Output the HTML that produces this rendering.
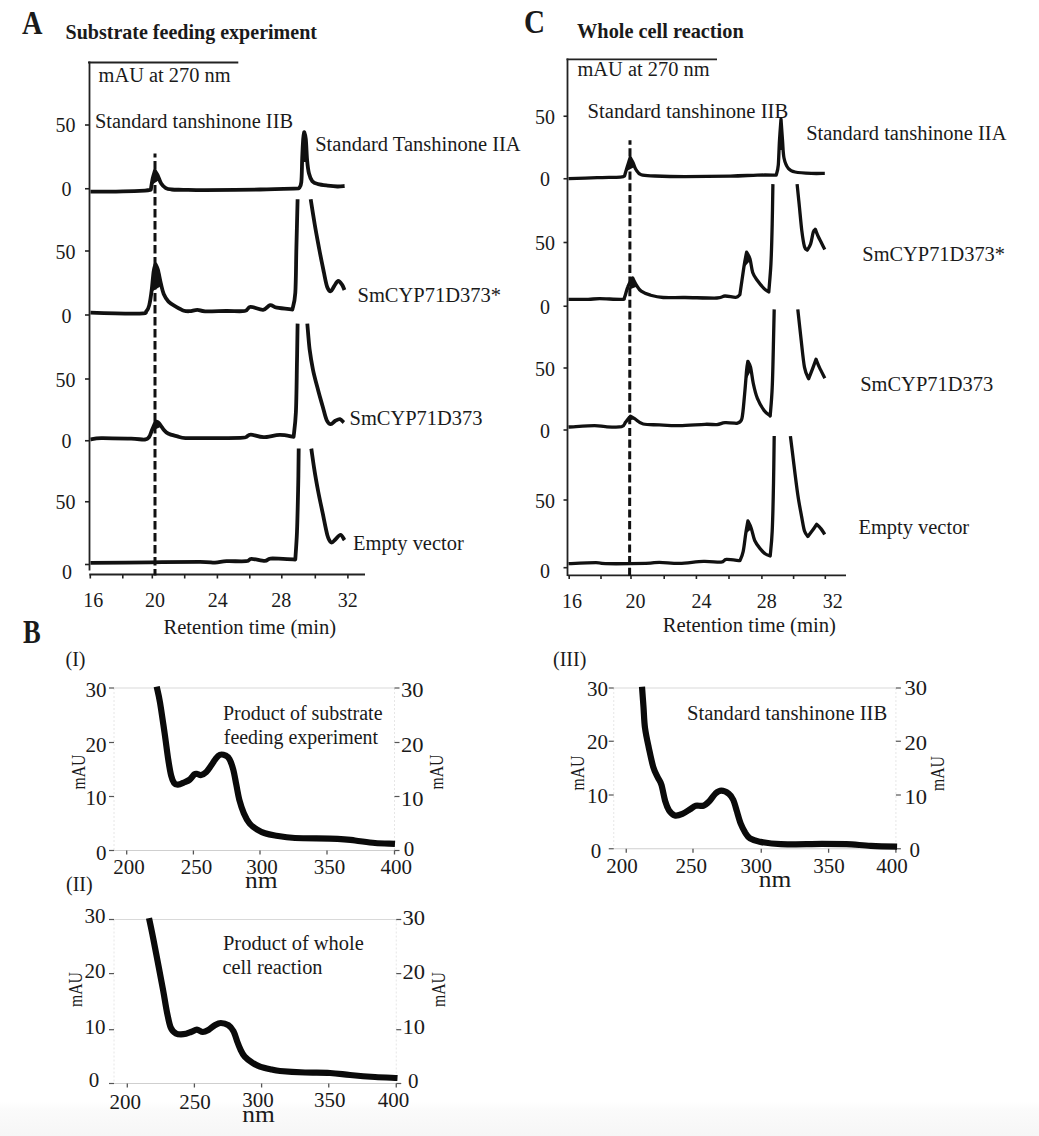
<!DOCTYPE html>
<html><head><meta charset="utf-8"><style>
html,body{margin:0;padding:0;background:#fff;}
body{width:1039px;height:1136px;overflow:hidden;position:relative;}
svg{position:absolute;left:0;top:0;}
</style></head><body>
<svg width="1039" height="1136" viewBox="0 0 1039 1136" font-family="Liberation Serif" fill="#1a1a1a">
<defs><linearGradient id="bg" x1="0" y1="0" x2="0" y2="1"><stop offset="0" stop-color="#ffffff"/><stop offset="0.2" stop-color="#fbfbfb"/><stop offset="1" stop-color="#f6f6f6"/></linearGradient></defs>
<rect x="0" y="1102" width="1039" height="34" fill="url(#bg)"/>
<text x="22" y="33.6" font-size="33" font-weight="bold" textLength="20.5" lengthAdjust="spacingAndGlyphs" >A</text>
<text x="65.5" y="38.6" font-size="21" font-weight="bold" textLength="251.5" lengthAdjust="spacingAndGlyphs" >Substrate feeding experiment</text>
<line x1="88" y1="62.5" x2="238.3" y2="62.5" stroke="#222" stroke-width="1.8" />
<line x1="89.5" y1="61.6" x2="89.5" y2="570.5" stroke="#222" stroke-width="1.8" />
<text x="98.6" y="82.0" font-size="20" textLength="132" lengthAdjust="spacingAndGlyphs" >mAU at 270 nm</text>
<line x1="85" y1="125" x2="89.5" y2="125" stroke="#222" stroke-width="1.6" />
<line x1="85" y1="188.75" x2="89.5" y2="188.75" stroke="#222" stroke-width="1.6" />
<line x1="85" y1="251" x2="89.5" y2="251" stroke="#222" stroke-width="1.6" />
<line x1="85" y1="315" x2="89.5" y2="315" stroke="#222" stroke-width="1.6" />
<line x1="85" y1="379" x2="89.5" y2="379" stroke="#222" stroke-width="1.6" />
<line x1="85" y1="440.75" x2="89.5" y2="440.75" stroke="#222" stroke-width="1.6" />
<line x1="85" y1="501.75" x2="89.5" y2="501.75" stroke="#222" stroke-width="1.6" />
<line x1="85" y1="564.5" x2="89.5" y2="564.5" stroke="#222" stroke-width="1.6" />
<text x="55.5" y="131.8" font-size="20" >50</text>
<text x="61.5" y="196.3" font-size="20" >0</text>
<text x="55.5" y="258.8" font-size="20" >50</text>
<text x="61.5" y="322.8" font-size="20" >0</text>
<text x="55.5" y="386.8" font-size="20" >50</text>
<text x="61.5" y="448.3" font-size="20" >0</text>
<text x="55.5" y="509.3" font-size="20" >50</text>
<text x="62" y="578.8" font-size="20" >0</text>
<line x1="89.3" y1="574.5" x2="365" y2="574.5" stroke="#222" stroke-width="1.8" />
<line x1="90.3" y1="574.5" x2="90.3" y2="578.5" stroke="#222" stroke-width="1.6" />
<line x1="122.8" y1="574.5" x2="122.8" y2="578.5" stroke="#222" stroke-width="1.6" />
<line x1="152.3" y1="574.5" x2="152.3" y2="578.5" stroke="#222" stroke-width="1.6" />
<line x1="184.7" y1="574.5" x2="184.7" y2="578.5" stroke="#222" stroke-width="1.6" />
<line x1="217.4" y1="574.5" x2="217.4" y2="578.5" stroke="#222" stroke-width="1.6" />
<line x1="249.8" y1="574.5" x2="249.8" y2="578.5" stroke="#222" stroke-width="1.6" />
<line x1="281.8" y1="574.5" x2="281.8" y2="578.5" stroke="#222" stroke-width="1.6" />
<line x1="315.3" y1="574.5" x2="315.3" y2="578.5" stroke="#222" stroke-width="1.6" />
<line x1="347.9" y1="574.5" x2="347.9" y2="578.5" stroke="#222" stroke-width="1.6" />
<text x="93.2" y="606.8" font-size="20" text-anchor="middle" >16</text>
<text x="155.1" y="606.8" font-size="20" text-anchor="middle" >20</text>
<text x="217.8" y="606.8" font-size="20" text-anchor="middle" >24</text>
<text x="281.2" y="606.8" font-size="20" text-anchor="middle" >28</text>
<text x="347.8" y="606.8" font-size="20" text-anchor="middle" >32</text>
<text x="163.5" y="633.8" font-size="20" textLength="172.6" lengthAdjust="spacingAndGlyphs" >Retention time (min)</text>
<text x="95" y="128.2" font-size="20" textLength="198" lengthAdjust="spacingAndGlyphs" >Standard tanshinone IIB</text>
<text x="315.2" y="151.2" font-size="20" textLength="205.5" lengthAdjust="spacingAndGlyphs" >Standard Tanshinone IIA</text>
<text x="357.5" y="301.8" font-size="20" textLength="143.5" lengthAdjust="spacingAndGlyphs" >SmCYP71D373*</text>
<text x="349.5" y="424.55" font-size="20" textLength="133" lengthAdjust="spacingAndGlyphs" >SmCYP71D373</text>
<text x="353" y="550.0" font-size="20" textLength="110.75" lengthAdjust="spacingAndGlyphs" >Empty vector</text>
<line x1="155.0" y1="153.5" x2="155.0" y2="575.5" stroke="#111" stroke-width="3" stroke-dasharray="8.5 3.5" stroke-dashoffset="4.5"/>
<path d="M90.5,191.6 C95.9,191.6 114.0,191.5 123.1,191.3 C132.2,191.1 140.4,190.8 145.0,190.6 C149.6,190.3 149.8,189.9 150.8,189.8 C151.1,188.0 151.9,182.1 152.6,178.9 C153.3,175.7 154.5,172.2 154.9,170.8 C155.4,171.6 156.6,173.3 157.7,175.4 C158.8,177.5 159.8,181.4 161.2,183.5 C162.5,185.6 164.1,187.1 165.8,188.1 C167.5,189.1 168.7,189.2 171.6,189.5 C174.5,189.8 177.6,189.7 183.2,189.8 C188.8,189.9 192.2,190.2 205.0,190.2 C217.8,190.1 244.3,189.8 260.0,189.5 C275.6,189.2 292.4,188.6 298.9,188.4 C299.3,187.4 300.8,187.2 301.3,182.2 C301.9,177.1 301.9,165.3 302.2,158.1 C302.5,150.9 302.9,143.2 303.2,138.9 C303.5,134.6 304.0,133.2 304.2,132.1 C304.5,133.2 305.3,134.2 305.8,138.9 C306.3,143.6 306.6,154.2 307.1,160.0 C307.6,165.8 308.1,170.0 309.0,173.5 C309.9,177.0 310.8,179.4 312.3,181.2 C313.8,183.0 315.5,183.4 318.1,184.1 C320.7,184.8 324.5,185.2 327.7,185.6 C330.9,186.0 334.6,186.4 337.4,186.5 C340.2,186.6 343.4,186.1 344.6,186.0" fill="none" stroke="#111" stroke-width="3.8" stroke-linejoin="round" stroke-linecap="butt"/>
<path d="M90.5,312.7 C98.7,312.9 130.3,313.9 139.6,313.6 C148.9,313.4 144.8,312.6 146.4,311.2 C148.0,309.8 148.3,308.9 149.2,305.4 C150.1,301.9 151.0,295.6 151.7,290.0 C152.4,284.4 153.0,276.1 153.6,271.8 C154.2,267.5 155.2,265.4 155.5,264.1 C155.9,265.1 157.0,266.6 157.9,269.8 C158.8,273.0 159.8,279.3 160.8,283.3 C161.8,287.3 162.4,290.8 163.7,293.9 C165.0,296.9 166.4,299.4 168.5,301.6 C170.6,303.8 173.6,305.4 176.2,306.9 C178.8,308.4 181.7,310.0 183.9,310.7 C186.2,311.4 187.4,311.3 189.7,311.2 C191.9,311.1 194.8,309.8 197.4,309.8 C200.0,309.8 200.3,311.2 205.1,311.4 C209.9,311.6 219.6,311.1 226.2,311.0 C232.8,310.9 240.7,311.7 244.7,311.0 C248.7,310.3 247.3,307.0 250.4,306.8 C253.5,306.6 259.8,310.1 263.1,309.8 C266.4,309.5 267.8,305.6 270.1,305.2 C272.4,304.8 273.3,307.0 277.0,307.7 C280.7,308.4 289.8,309.2 292.4,309.5 C292.9,306.7 294.6,303.3 295.3,292.9 C296.0,282.5 296.0,262.8 296.4,247.2 C296.8,231.6 297.4,207.2 297.6,199.2" fill="none" stroke="#111" stroke-width="3.8" stroke-linejoin="round" stroke-linecap="butt"/>
<path d="M310.7,199.2 C311.4,203.4 313.3,215.9 314.7,224.3 C316.1,232.7 317.8,241.5 319.3,249.5 C320.8,257.5 322.6,266.1 323.9,272.4 C325.2,278.7 326.1,284.1 327.3,287.2 C328.5,290.3 329.7,291.4 330.8,291.2 C331.9,291.0 333.0,287.8 334.2,286.1 C335.4,284.4 336.9,281.1 338.2,280.9 C339.5,280.7 341.1,283.4 342.2,284.9 C343.2,286.4 344.1,289.2 344.5,290.1" fill="none" stroke="#111" stroke-width="3.8" stroke-linejoin="round" stroke-linecap="butt"/>
<path d="M90.5,439.3 C92.3,439.1 94.4,438.2 101.2,438.1 C108.0,438.0 123.9,438.5 131.2,438.7 C138.5,438.9 142.0,439.8 145.0,439.5 C148.0,439.2 147.9,438.6 149.1,437.0 C150.3,435.4 150.9,432.6 152.0,430.0 C153.1,427.4 155.1,422.8 155.7,421.4 C156.2,421.7 157.6,421.8 158.9,423.1 C160.2,424.4 162.0,427.7 163.5,429.4 C165.0,431.1 165.8,432.3 168.1,433.5 C170.4,434.7 174.5,435.6 177.4,436.4 C180.3,437.2 180.9,437.8 185.5,438.1 C190.1,438.4 195.8,438.1 205.0,438.1 C214.2,438.1 233.5,438.1 240.4,437.9 C247.3,437.7 244.5,437.6 246.2,437.0 C247.9,436.4 247.9,434.6 250.8,434.6 C253.7,434.6 258.7,437.1 263.5,437.2 C268.3,437.2 274.7,435.0 279.7,434.9 C284.7,434.8 291.3,436.5 293.6,436.8 C294.0,432.7 295.3,424.9 295.9,412.2 C296.5,399.5 296.7,375.6 297.0,360.8 C297.3,346.0 297.5,329.8 297.6,323.6" fill="none" stroke="#111" stroke-width="3.8" stroke-linejoin="round" stroke-linecap="butt"/>
<path d="M307.3,323.6 C307.7,327.9 308.7,341.6 309.6,349.3 C310.6,357.0 311.6,363.0 313.0,369.9 C314.4,376.8 316.6,384.4 318.2,390.5 C319.8,396.6 321.3,401.6 322.7,406.5 C324.1,411.4 325.3,417.2 326.7,420.2 C328.1,423.1 329.4,424.1 330.8,424.2 C332.2,424.3 333.8,421.6 335.3,420.8 C336.8,420.0 338.5,418.8 339.9,419.1 C341.3,419.4 343.2,421.9 343.9,422.5" fill="none" stroke="#111" stroke-width="3.8" stroke-linejoin="round" stroke-linecap="butt"/>
<path d="M90.5,562.9 C100.4,562.8 131.8,562.5 150.0,562.3 C168.2,562.1 189.2,561.8 200.0,561.8 C210.8,561.8 210.6,562.7 215.0,562.6 C219.4,562.5 221.4,561.4 226.6,561.2 C231.8,561.0 242.1,561.6 246.2,561.2 C250.3,560.8 248.3,559.0 251.4,558.9 C254.5,558.8 261.5,560.9 264.7,560.9 C267.9,560.9 267.3,558.9 270.4,558.6 C273.5,558.3 279.0,558.8 283.1,558.9 C287.2,559.0 293.3,559.4 295.3,559.5 C295.6,554.8 296.5,543.8 297.0,531.5 C297.5,519.2 297.9,499.6 298.2,485.8 C298.5,472.0 298.6,454.8 298.7,448.6" fill="none" stroke="#111" stroke-width="3.8" stroke-linejoin="round" stroke-linecap="butt"/>
<path d="M311.3,448.6 C311.8,451.9 313.1,461.5 314.2,468.6 C315.3,475.8 316.8,484.1 318.2,491.5 C319.6,498.9 321.2,506.0 322.7,513.2 C324.2,520.4 325.9,530.0 327.3,534.9 C328.7,539.8 330.0,541.6 331.3,542.4 C332.6,543.2 333.8,540.8 335.3,539.5 C336.8,538.2 339.0,534.8 340.5,534.9 C342.0,535.0 343.8,539.2 344.5,540.1" fill="none" stroke="#111" stroke-width="3.8" stroke-linejoin="round" stroke-linecap="butt"/>
<text x="524" y="33.3" font-size="33" font-weight="bold" textLength="21" lengthAdjust="spacingAndGlyphs" >C</text>
<text x="577" y="38.0" font-size="21" font-weight="bold" textLength="166.75" lengthAdjust="spacingAndGlyphs" >Whole cell reaction</text>
<line x1="566.5" y1="59.4" x2="717" y2="59.4" stroke="#222" stroke-width="1.8" />
<line x1="567.5" y1="58.5" x2="567.5" y2="576" stroke="#222" stroke-width="1.8" />
<text x="577.5" y="75.8" font-size="20" textLength="132" lengthAdjust="spacingAndGlyphs" >mAU at 270 nm</text>
<line x1="563.5" y1="116.25" x2="567.5" y2="116.25" stroke="#222" stroke-width="1.6" />
<line x1="563.5" y1="178.75" x2="567.5" y2="178.75" stroke="#222" stroke-width="1.6" />
<line x1="563.5" y1="242.5" x2="567.5" y2="242.5" stroke="#222" stroke-width="1.6" />
<line x1="563.5" y1="306.25" x2="567.5" y2="306.25" stroke="#222" stroke-width="1.6" />
<line x1="563.5" y1="368" x2="567.5" y2="368" stroke="#222" stroke-width="1.6" />
<line x1="563.5" y1="430" x2="567.5" y2="430" stroke="#222" stroke-width="1.6" />
<line x1="563.5" y1="500" x2="567.5" y2="500" stroke="#222" stroke-width="1.6" />
<line x1="563.5" y1="567.7" x2="567.5" y2="567.7" stroke="#222" stroke-width="1.6" />
<text x="535" y="123.8" font-size="20" >50</text>
<text x="540" y="186.3" font-size="20" >0</text>
<text x="535" y="250.3" font-size="20" >50</text>
<text x="540" y="313.8" font-size="20" >0</text>
<text x="535" y="375.8" font-size="20" >50</text>
<text x="540" y="437.8" font-size="20" >0</text>
<text x="535" y="507.8" font-size="20" >50</text>
<text x="540" y="577.8" font-size="20" >0</text>
<line x1="567.8" y1="575.4" x2="846" y2="575.4" stroke="#222" stroke-width="1.8" />
<line x1="569.2" y1="575.4" x2="569.2" y2="579" stroke="#222" stroke-width="1.6" />
<line x1="601" y1="575.4" x2="601" y2="579" stroke="#222" stroke-width="1.6" />
<line x1="631" y1="575.4" x2="631" y2="579" stroke="#222" stroke-width="1.6" />
<line x1="664.2" y1="575.4" x2="664.2" y2="579" stroke="#222" stroke-width="1.6" />
<line x1="696.4" y1="575.4" x2="696.4" y2="579" stroke="#222" stroke-width="1.6" />
<line x1="729" y1="575.4" x2="729" y2="579" stroke="#222" stroke-width="1.6" />
<line x1="761.9" y1="575.4" x2="761.9" y2="579" stroke="#222" stroke-width="1.6" />
<line x1="793.6" y1="575.4" x2="793.6" y2="579" stroke="#222" stroke-width="1.6" />
<line x1="825.3" y1="575.4" x2="825.3" y2="579" stroke="#222" stroke-width="1.6" />
<text x="572" y="607.8" font-size="20" text-anchor="middle" >16</text>
<text x="635.5" y="607.8" font-size="20" text-anchor="middle" >20</text>
<text x="701.5" y="607.8" font-size="20" text-anchor="middle" >24</text>
<text x="766.8" y="607.8" font-size="20" text-anchor="middle" >28</text>
<text x="832.8" y="607.8" font-size="20" text-anchor="middle" >32</text>
<text x="662.7" y="632.0" font-size="20" textLength="173.3" lengthAdjust="spacingAndGlyphs" >Retention time (min)</text>
<text x="587.5" y="118.3" font-size="20" textLength="200.7" lengthAdjust="spacingAndGlyphs" >Standard tanshinone IIB</text>
<text x="806.2" y="140.0" font-size="20" textLength="200.3" lengthAdjust="spacingAndGlyphs" >Standard tanshinone IIA</text>
<text x="862.3" y="261.2" font-size="20" textLength="142.7" lengthAdjust="spacingAndGlyphs" >SmCYP71D373*</text>
<text x="860.2" y="390.8" font-size="20" textLength="133" lengthAdjust="spacingAndGlyphs" >SmCYP71D373</text>
<text x="858.4" y="533.7" font-size="20" textLength="110.8" lengthAdjust="spacingAndGlyphs" >Empty vector</text>
<line x1="630.0" y1="140.2" x2="629.6" y2="576" stroke="#111" stroke-width="3" stroke-dasharray="8.1 3.55" stroke-dashoffset="3.55"/>
<path d="M568.5,178.6 C573.3,178.4 588.6,177.9 597.3,177.7 C605.9,177.4 615.9,177.4 620.4,177.1 C624.9,176.8 623.8,176.2 624.5,176.0 C625.0,174.4 626.4,169.3 627.4,166.2 C628.4,163.1 629.7,158.9 630.2,157.5 C630.7,158.4 632.1,160.7 633.1,162.7 C634.1,164.7 634.6,167.6 636.0,169.6 C637.4,171.6 638.0,173.7 641.2,174.8 C644.4,175.9 647.8,175.7 655.1,176.0 C662.4,176.3 672.5,176.6 685.0,176.6 C697.5,176.6 718.3,176.3 730.4,176.1 C742.5,175.8 749.8,175.3 757.4,175.1 C765.0,174.9 773.1,175.1 776.2,175.1 C776.6,173.4 777.8,170.8 778.3,165.0 C778.8,159.2 779.0,147.7 779.5,140.0 C780.0,132.3 780.8,122.5 781.0,119.0 C781.2,122.5 782.0,133.5 782.5,140.0 C783.0,146.5 783.0,153.2 784.0,158.0 C785.0,162.8 786.5,166.2 788.4,168.5 C790.2,170.8 791.3,171.2 795.1,172.0 C798.9,172.8 806.3,173.2 811.3,173.4 C816.2,173.6 822.5,173.4 824.8,173.4" fill="none" stroke="#111" stroke-width="3.3" stroke-linejoin="round" stroke-linecap="butt"/>
<path d="M568.5,299.3 C571.8,299.3 582.9,299.4 588.1,299.3 C593.3,299.2 594.0,298.7 599.6,298.7 C605.2,298.7 617.5,299.5 621.6,299.3 C625.8,299.1 623.5,299.6 624.5,297.5 C625.5,295.4 626.5,289.9 627.9,286.6 C629.2,283.3 631.8,279.3 632.6,277.9 C633.3,279.1 635.2,283.2 636.6,285.4 C638.0,287.6 638.9,289.6 641.2,291.2 C643.5,292.8 646.8,294.1 650.5,295.2 C654.2,296.2 657.5,297.1 663.2,297.5 C669.0,297.9 676.0,297.4 685.0,297.5 C694.0,297.6 710.3,298.2 717.0,298.0 C723.7,297.8 721.9,296.1 725.0,296.0 C728.1,295.9 733.3,297.5 735.8,297.3 C738.3,297.1 739.2,295.1 739.9,294.6 C740.6,290.0 742.8,274.1 743.9,267.0 C745.0,259.9 746.1,254.7 746.6,252.2 C747.2,253.3 749.0,255.5 750.0,258.9 C751.0,262.3 751.5,268.8 752.7,272.4 C753.9,276.0 755.5,277.8 757.4,280.5 C759.3,283.2 762.2,286.7 764.1,288.6 C766.0,290.5 768.0,291.4 768.8,292.0 C769.1,287.4 770.3,275.7 770.9,264.3 C771.5,253.0 771.9,237.3 772.2,223.9 C772.5,210.5 772.8,190.7 772.9,184.1" fill="none" stroke="#111" stroke-width="3.3" stroke-linejoin="round" stroke-linecap="butt"/>
<path d="M797.1,184.1 C797.4,187.4 798.3,195.9 799.1,203.7 C799.9,211.4 800.9,223.4 801.8,230.6 C802.7,237.8 803.6,243.5 804.5,246.8 C805.4,250.1 806.8,249.6 807.2,250.2 C807.8,249.2 809.6,247.1 810.6,244.1 C811.6,241.1 812.5,234.5 813.3,232.0 C814.1,229.5 815.0,229.8 815.3,229.3 C815.8,230.4 817.0,233.8 818.0,236.0 C819.0,238.2 820.3,240.6 821.4,242.8 C822.5,245.1 824.2,248.4 824.8,249.5" fill="none" stroke="#111" stroke-width="3.3" stroke-linejoin="round" stroke-linecap="butt"/>
<path d="M568.5,427.0 C572.9,426.8 588.5,425.7 594.6,425.6 C600.8,425.6 600.9,426.5 605.4,426.7 C609.9,426.9 618.2,427.4 621.6,426.7 C625.0,425.9 624.1,423.9 625.6,422.2 C627.1,420.4 629.6,417.2 630.4,416.2 C631.2,416.6 632.9,417.6 635.0,418.9 C637.1,420.2 639.2,423.0 643.2,424.0 C647.2,425.0 653.2,424.6 659.3,424.9 C665.3,425.2 671.9,425.7 679.5,425.6 C687.1,425.5 698.8,424.5 705.0,424.3 C711.2,424.1 713.7,424.9 717.0,424.6 C720.3,424.3 721.6,422.8 725.0,422.6 C728.4,422.4 735.2,423.2 737.2,423.3 C738.0,422.5 740.7,423.4 741.9,418.6 C743.1,413.8 743.8,402.4 744.6,394.3 C745.4,386.2 746.1,375.6 746.6,370.1 C747.1,364.6 747.7,362.8 747.9,361.3 C748.4,362.3 749.7,363.7 750.6,367.4 C751.5,371.1 752.2,378.3 753.3,383.5 C754.4,388.7 755.6,393.9 757.4,398.4 C759.2,402.9 762.0,407.6 764.1,410.5 C766.2,413.4 769.2,415.0 770.2,415.9 C770.5,411.2 771.7,400.2 772.2,387.6 C772.8,375.0 773.2,353.4 773.5,340.4 C773.8,327.4 774.1,314.6 774.2,309.4" fill="none" stroke="#111" stroke-width="3.3" stroke-linejoin="round" stroke-linecap="butt"/>
<path d="M797.8,309.4 C798.4,314.6 800.1,330.7 801.2,340.4 C802.3,350.1 803.3,361.0 804.5,367.4 C805.7,373.8 807.9,376.9 808.6,378.8 C809.3,377.1 811.4,371.9 812.6,368.7 C813.8,365.4 815.4,360.9 816.0,359.3 C816.6,360.6 817.9,364.2 819.4,367.4 C820.9,370.5 823.9,376.4 824.8,378.2" fill="none" stroke="#111" stroke-width="3.3" stroke-linejoin="round" stroke-linecap="butt"/>
<path d="M568.5,563.7 C573.1,563.5 589.9,562.7 596.0,562.7 C602.1,562.7 597.1,563.6 605.4,563.7 C613.7,563.8 636.9,563.6 645.9,563.4 C654.9,563.2 653.7,562.3 659.3,562.3 C664.9,562.3 672.1,563.5 679.5,563.4 C686.9,563.2 696.6,561.6 703.5,561.4 C710.4,561.2 717.2,562.4 721.0,562.1 C724.8,561.8 723.2,559.6 726.4,559.4 C729.5,559.2 737.6,560.5 739.9,560.7 C740.5,559.1 742.2,556.0 743.2,551.3 C744.2,546.6 745.1,537.4 745.9,532.4 C746.7,527.4 747.6,522.9 747.9,521.0 C748.5,522.2 750.2,525.1 751.3,528.4 C752.4,531.6 753.2,537.1 754.7,540.5 C756.2,543.9 758.3,546.4 760.1,548.6 C761.9,550.9 763.8,552.8 765.5,554.0 C767.2,555.2 769.4,555.7 770.2,556.0 C770.5,551.9 771.7,543.1 772.2,531.1 C772.8,519.1 773.2,499.7 773.5,483.9 C773.8,468.1 774.1,444.1 774.2,436.1" fill="none" stroke="#111" stroke-width="3.3" stroke-linejoin="round" stroke-linecap="butt"/>
<path d="M790.4,436.1 C791.0,440.7 792.6,453.9 793.8,463.7 C795.0,473.5 796.5,485.7 797.8,494.7 C799.1,503.7 800.7,511.5 801.8,517.6 C802.9,523.7 803.5,528.0 804.5,531.1 C805.5,534.2 807.3,535.6 807.9,536.5 C808.6,535.6 810.5,533.1 812.0,531.1 C813.5,529.1 815.9,525.4 816.7,524.3 C817.4,525.0 819.4,526.7 820.7,528.4 C822.1,530.1 824.1,533.4 824.8,534.4" fill="none" stroke="#111" stroke-width="3.3" stroke-linejoin="round" stroke-linecap="butt"/>
<polygon points="154.9,170.8 151.6,185.0 159.2,180.0" fill="#111"/>
<polygon points="155.5,264.1 151.2,292.0 161.2,286.0" fill="#111"/>
<polygon points="155.7,421.4 151.8,431.0 160.5,427.0" fill="#111"/>
<polygon points="304.2,132.1 302.2,162.0 307.0,162.0" fill="#111"/>
<polygon points="630.2,157.5 626.8,171.0 634.5,167.0" fill="#111"/>
<polygon points="632.6,277.9 628.2,290.0 637.2,286.5" fill="#111"/>
<polygon points="630.4,416.2 626.5,421.5 634.5,419.0" fill="#111"/>
<polygon points="746.6,252.2 743.6,268.0 750.8,260.0" fill="#111"/>
<polygon points="747.9,361.3 745.0,382.0 751.3,370.0" fill="#111"/>
<polygon points="747.9,521.0 745.3,534.0 751.6,529.0" fill="#111"/>
<polygon points="781.0,119.0 779.3,150.0 783.5,150.0" fill="#111"/>
<text x="23.1" y="643.0" font-size="33" font-weight="bold" textLength="17.7" lengthAdjust="spacingAndGlyphs" >B</text>
<text x="65.5" y="666.0" font-size="20" >(I)</text>
<line x1="114" y1="688" x2="394.5" y2="688" stroke="#d9d9d9" stroke-width="1.2" />
<line x1="114" y1="850.5" x2="394.5" y2="850.5" stroke="#cfcfcf" stroke-width="1.2" />
<line x1="114" y1="688" x2="114" y2="850.5" stroke="#e6e6e6" stroke-width="1" stroke-dasharray="2 2"/>
<line x1="394.5" y1="688" x2="394.5" y2="850.5" stroke="#e6e6e6" stroke-width="1" stroke-dasharray="2 2"/>
<line x1="109" y1="688" x2="114" y2="688" stroke="#555" stroke-width="1.2" />
<line x1="394.5" y1="688" x2="399.5" y2="688" stroke="#555" stroke-width="1.2" />
<line x1="109" y1="742.5" x2="114" y2="742.5" stroke="#555" stroke-width="1.2" />
<line x1="394.5" y1="742.5" x2="399.5" y2="742.5" stroke="#555" stroke-width="1.2" />
<line x1="109" y1="796.5" x2="114" y2="796.5" stroke="#555" stroke-width="1.2" />
<line x1="394.5" y1="796.5" x2="399.5" y2="796.5" stroke="#555" stroke-width="1.2" />
<line x1="109" y1="850.5" x2="114" y2="850.5" stroke="#555" stroke-width="1.2" />
<line x1="394.5" y1="850.5" x2="399.5" y2="850.5" stroke="#555" stroke-width="1.2" />
<line x1="126.7" y1="850.5" x2="126.7" y2="854.5" stroke="#555" stroke-width="1.3" />
<line x1="193.4" y1="850.5" x2="193.4" y2="854.5" stroke="#555" stroke-width="1.3" />
<line x1="260" y1="850.5" x2="260" y2="854.5" stroke="#555" stroke-width="1.3" />
<line x1="327" y1="850.5" x2="327" y2="854.5" stroke="#555" stroke-width="1.3" />
<line x1="394.5" y1="850.5" x2="394.5" y2="854.5" stroke="#555" stroke-width="1.3" />
<text x="106.5" y="696.5" font-size="21" textLength="21" lengthAdjust="spacingAndGlyphs" text-anchor="end" >30</text>
<text x="106.5" y="751.5" font-size="21" textLength="21" lengthAdjust="spacingAndGlyphs" text-anchor="end" >20</text>
<text x="106.5" y="805.0" font-size="21" textLength="21" lengthAdjust="spacingAndGlyphs" text-anchor="end" >10</text>
<text x="106.6" y="859.5" font-size="21" textLength="10.5" lengthAdjust="spacingAndGlyphs" text-anchor="end" >0</text>
<text x="401" y="697.0" font-size="21" textLength="22.5" lengthAdjust="spacingAndGlyphs" >30</text>
<text x="401" y="751.5" font-size="21" textLength="22.5" lengthAdjust="spacingAndGlyphs" >20</text>
<text x="401" y="805.5" font-size="21" textLength="22.5" lengthAdjust="spacingAndGlyphs" >10</text>
<text x="403.8" y="856.0" font-size="21" textLength="10.5" lengthAdjust="spacingAndGlyphs" >0</text>
<text x="128.9" y="874.0" font-size="21" textLength="31.5" lengthAdjust="spacingAndGlyphs" text-anchor="middle" >200</text>
<text x="196.4" y="874.0" font-size="21" textLength="31.5" lengthAdjust="spacingAndGlyphs" text-anchor="middle" >250</text>
<text x="261.9" y="873.5" font-size="21" textLength="31.5" lengthAdjust="spacingAndGlyphs" text-anchor="middle" >300</text>
<text x="329.4" y="873.5" font-size="21" textLength="31.5" lengthAdjust="spacingAndGlyphs" text-anchor="middle" >350</text>
<text x="396.2" y="873.5" font-size="21" textLength="31.5" lengthAdjust="spacingAndGlyphs" text-anchor="middle" >400</text>
<text x="261.25" y="888.0" font-size="24" textLength="32.5" lengthAdjust="spacingAndGlyphs" text-anchor="middle" >nm</text>
<text x="0" y="0" font-size="18.5" text-anchor="middle" textLength="35" lengthAdjust="spacingAndGlyphs" transform="translate(84.5,772) rotate(-90)">mAU</text>
<text x="0" y="0" font-size="18.5" text-anchor="middle" textLength="35" lengthAdjust="spacingAndGlyphs" transform="translate(443,772) rotate(-90)">mAU</text>
<text x="223" y="720.0" font-size="20" textLength="159.5" lengthAdjust="spacingAndGlyphs" >Product of substrate</text>
<text x="223.75" y="743.75" font-size="20" textLength="154.25" lengthAdjust="spacingAndGlyphs" >feeding experiment</text>
<path d="M156.7,686.7 C157.2,689.3 158.7,694.8 160.0,702.4 C161.3,710.0 163.1,722.9 164.5,732.4 C165.9,741.9 167.1,752.1 168.2,759.3 C169.3,766.5 170.2,771.8 171.2,775.8 C172.2,779.8 173.1,781.7 174.2,783.2 C175.3,784.7 176.3,784.8 177.9,784.7 C179.5,784.6 181.9,783.4 183.9,782.5 C185.9,781.6 188.2,780.9 189.9,779.5 C191.7,778.1 193.2,775.2 194.4,774.3 C195.7,773.4 196.3,773.9 197.4,774.0 C198.5,774.1 199.6,775.3 201.1,775.0 C202.6,774.7 204.7,773.5 206.3,772.0 C207.9,770.5 209.3,768.1 210.8,766.0 C212.3,763.9 213.8,761.2 215.3,759.3 C216.8,757.4 218.1,755.4 219.8,754.8 C221.6,754.2 224.2,754.9 225.8,755.6 C227.4,756.4 228.2,756.9 229.5,759.3 C230.8,761.7 232.2,765.6 233.3,769.8 C234.4,774.0 235.3,779.7 236.3,784.7 C237.3,789.7 238.1,795.0 239.3,799.7 C240.6,804.5 242.1,809.2 243.8,813.2 C245.5,817.2 247.5,820.9 249.7,823.6 C251.9,826.3 254.6,828.0 257.2,829.6 C259.8,831.2 262.0,832.3 265.0,833.3 C268.0,834.3 270.0,834.7 275.0,835.5 C280.0,836.3 284.6,837.5 295.0,838.0 C305.4,838.5 327.5,838.3 337.5,838.8 C347.5,839.2 348.8,839.8 355.0,840.5 C361.2,841.2 368.3,842.5 375.0,843.0 C381.7,843.5 391.7,843.6 395.0,843.8" fill="none" stroke="#0a0a0a" stroke-width="6.2" stroke-linejoin="round" stroke-linecap="butt"/>
<text x="66" y="890.7" font-size="20" >(II)</text>
<line x1="114" y1="919.5" x2="396.25" y2="919.5" stroke="#d9d9d9" stroke-width="1.2" />
<line x1="114" y1="1083.5" x2="396.25" y2="1083.5" stroke="#cfcfcf" stroke-width="1.2" />
<line x1="114" y1="919.5" x2="114" y2="1083.5" stroke="#e6e6e6" stroke-width="1" stroke-dasharray="2 2"/>
<line x1="396.25" y1="919.5" x2="396.25" y2="1083.5" stroke="#e6e6e6" stroke-width="1" stroke-dasharray="2 2"/>
<line x1="109" y1="919.5" x2="114" y2="919.5" stroke="#555" stroke-width="1.2" />
<line x1="396.25" y1="919.5" x2="401.25" y2="919.5" stroke="#555" stroke-width="1.2" />
<line x1="109" y1="973.6" x2="114" y2="973.6" stroke="#555" stroke-width="1.2" />
<line x1="396.25" y1="973.6" x2="401.25" y2="973.6" stroke="#555" stroke-width="1.2" />
<line x1="109" y1="1029.7" x2="114" y2="1029.7" stroke="#555" stroke-width="1.2" />
<line x1="396.25" y1="1029.7" x2="401.25" y2="1029.7" stroke="#555" stroke-width="1.2" />
<line x1="109" y1="1083.5" x2="114" y2="1083.5" stroke="#555" stroke-width="1.2" />
<line x1="396.25" y1="1083.5" x2="401.25" y2="1083.5" stroke="#555" stroke-width="1.2" />
<line x1="127.3" y1="1083.5" x2="127.3" y2="1087.5" stroke="#555" stroke-width="1.3" />
<line x1="194.4" y1="1083.5" x2="194.4" y2="1087.5" stroke="#555" stroke-width="1.3" />
<line x1="261.6" y1="1083.5" x2="261.6" y2="1087.5" stroke="#555" stroke-width="1.3" />
<line x1="328.75" y1="1083.5" x2="328.75" y2="1087.5" stroke="#555" stroke-width="1.3" />
<line x1="396.25" y1="1083.5" x2="396.25" y2="1087.5" stroke="#555" stroke-width="1.3" />
<text x="105.5" y="923.0" font-size="21" textLength="21" lengthAdjust="spacingAndGlyphs" text-anchor="end" >30</text>
<text x="105.5" y="977.5" font-size="21" textLength="21" lengthAdjust="spacingAndGlyphs" text-anchor="end" >20</text>
<text x="105.5" y="1033.5" font-size="21" textLength="21" lengthAdjust="spacingAndGlyphs" text-anchor="end" >10</text>
<text x="99.2" y="1086.5" font-size="21" textLength="10.5" lengthAdjust="spacingAndGlyphs" text-anchor="end" >0</text>
<text x="402.5" y="925.0" font-size="21" textLength="22.5" lengthAdjust="spacingAndGlyphs" >30</text>
<text x="402.5" y="979.0" font-size="21" textLength="22.5" lengthAdjust="spacingAndGlyphs" >20</text>
<text x="402.5" y="1034.0" font-size="21" textLength="22.5" lengthAdjust="spacingAndGlyphs" >10</text>
<text x="408" y="1087.5" font-size="21" textLength="10.5" lengthAdjust="spacingAndGlyphs" >0</text>
<text x="125.2" y="1108.5" font-size="21" textLength="31.5" lengthAdjust="spacingAndGlyphs" text-anchor="middle" >200</text>
<text x="195" y="1108.5" font-size="21" textLength="31.5" lengthAdjust="spacingAndGlyphs" text-anchor="middle" >250</text>
<text x="258.1" y="1107.0" font-size="21" textLength="31.5" lengthAdjust="spacingAndGlyphs" text-anchor="middle" >300</text>
<text x="329.75" y="1107.0" font-size="21" textLength="31.5" lengthAdjust="spacingAndGlyphs" text-anchor="middle" >350</text>
<text x="393.4" y="1107.0" font-size="21" textLength="31.5" lengthAdjust="spacingAndGlyphs" text-anchor="middle" >400</text>
<text x="258.5" y="1122.0" font-size="24" textLength="32.5" lengthAdjust="spacingAndGlyphs" text-anchor="middle" >nm</text>
<text x="0" y="0" font-size="18.5" text-anchor="middle" textLength="35" lengthAdjust="spacingAndGlyphs" transform="translate(81.5,989.5) rotate(-90)">mAU</text>
<text x="0" y="0" font-size="18.5" text-anchor="middle" textLength="35" lengthAdjust="spacingAndGlyphs" transform="translate(444.5,989.5) rotate(-90)">mAU</text>
<text x="223" y="950.0" font-size="20" textLength="140.75" lengthAdjust="spacingAndGlyphs" >Product of whole</text>
<text x="222.5" y="973.75" font-size="20" textLength="100" lengthAdjust="spacingAndGlyphs" >cell reaction</text>
<path d="M149.0,918.2 C149.8,921.8 151.9,931.8 153.5,939.9 C155.1,948.0 157.1,958.4 158.7,966.9 C160.3,975.4 161.8,983.3 163.2,990.8 C164.6,998.3 165.7,1005.7 166.9,1011.8 C168.2,1017.9 169.2,1023.9 170.7,1027.5 C172.2,1031.1 173.8,1032.3 175.9,1033.4 C178.0,1034.5 180.9,1034.4 183.4,1034.2 C185.9,1034.0 188.7,1032.8 190.9,1032.0 C193.2,1031.2 194.9,1029.7 196.9,1029.7 C198.9,1029.7 200.8,1032.0 202.8,1032.0 C204.8,1032.0 206.8,1030.8 208.8,1029.7 C210.8,1028.6 212.8,1026.3 214.8,1025.2 C216.8,1024.1 218.6,1023.0 220.8,1023.0 C223.1,1023.0 226.2,1023.8 228.3,1025.2 C230.4,1026.6 232.0,1028.5 233.5,1031.2 C235.0,1034.0 236.2,1038.7 237.3,1041.7 C238.4,1044.7 239.1,1046.7 240.3,1049.2 C241.5,1051.7 242.7,1054.4 244.7,1056.6 C246.7,1058.8 249.6,1060.9 252.2,1062.6 C254.8,1064.3 256.8,1065.4 260.0,1066.6 C263.2,1067.8 268.4,1068.8 271.7,1069.5 C275.0,1070.2 274.4,1070.5 280.0,1071.0 C285.6,1071.5 296.7,1072.2 305.0,1072.5 C313.3,1072.8 322.5,1072.6 330.0,1073.0 C337.5,1073.4 342.5,1074.3 350.0,1075.0 C357.5,1075.7 367.1,1076.5 375.0,1077.0 C382.9,1077.5 393.8,1077.8 397.5,1078.0" fill="none" stroke="#0a0a0a" stroke-width="6.2" stroke-linejoin="round" stroke-linecap="butt"/>
<text x="553" y="666.25" font-size="20" >(III)</text>
<line x1="613.75" y1="688" x2="895.9" y2="688" stroke="#d9d9d9" stroke-width="1.2" />
<line x1="613.75" y1="848.75" x2="895.9" y2="848.75" stroke="#cfcfcf" stroke-width="1.2" />
<line x1="613.75" y1="688" x2="613.75" y2="848.75" stroke="#e6e6e6" stroke-width="1" stroke-dasharray="2 2"/>
<line x1="895.9" y1="688" x2="895.9" y2="848.75" stroke="#e6e6e6" stroke-width="1" stroke-dasharray="2 2"/>
<line x1="608.75" y1="688" x2="613.75" y2="688" stroke="#555" stroke-width="1.2" />
<line x1="895.9" y1="688" x2="900.9" y2="688" stroke="#555" stroke-width="1.2" />
<line x1="608.75" y1="741.25" x2="613.75" y2="741.25" stroke="#555" stroke-width="1.2" />
<line x1="895.9" y1="741.25" x2="900.9" y2="741.25" stroke="#555" stroke-width="1.2" />
<line x1="608.75" y1="795" x2="613.75" y2="795" stroke="#555" stroke-width="1.2" />
<line x1="895.9" y1="795" x2="900.9" y2="795" stroke="#555" stroke-width="1.2" />
<line x1="608.75" y1="848.75" x2="613.75" y2="848.75" stroke="#555" stroke-width="1.2" />
<line x1="895.9" y1="848.75" x2="900.9" y2="848.75" stroke="#555" stroke-width="1.2" />
<line x1="626.25" y1="848.75" x2="626.25" y2="852.75" stroke="#555" stroke-width="1.3" />
<line x1="693" y1="848.75" x2="693" y2="852.75" stroke="#555" stroke-width="1.3" />
<line x1="761.25" y1="848.75" x2="761.25" y2="852.75" stroke="#555" stroke-width="1.3" />
<line x1="828.6" y1="848.75" x2="828.6" y2="852.75" stroke="#555" stroke-width="1.3" />
<line x1="895.9" y1="848.75" x2="895.9" y2="852.75" stroke="#555" stroke-width="1.3" />
<text x="608" y="695.5" font-size="21" textLength="21" lengthAdjust="spacingAndGlyphs" text-anchor="end" >30</text>
<text x="608" y="749.0" font-size="21" textLength="21" lengthAdjust="spacingAndGlyphs" text-anchor="end" >20</text>
<text x="608" y="803.0" font-size="21" textLength="21" lengthAdjust="spacingAndGlyphs" text-anchor="end" >10</text>
<text x="601.25" y="857.5" font-size="21" textLength="10.5" lengthAdjust="spacingAndGlyphs" text-anchor="end" >0</text>
<text x="904.6" y="695.0" font-size="21" textLength="22.5" lengthAdjust="spacingAndGlyphs" >30</text>
<text x="904.6" y="750.0" font-size="21" textLength="22.5" lengthAdjust="spacingAndGlyphs" >20</text>
<text x="904.6" y="803.5" font-size="21" textLength="22.5" lengthAdjust="spacingAndGlyphs" >10</text>
<text x="909.6" y="857.0" font-size="21" textLength="10.5" lengthAdjust="spacingAndGlyphs" >0</text>
<text x="622" y="872.5" font-size="21" textLength="31.5" lengthAdjust="spacingAndGlyphs" text-anchor="middle" >200</text>
<text x="691.25" y="872.5" font-size="21" textLength="31.5" lengthAdjust="spacingAndGlyphs" text-anchor="middle" >250</text>
<text x="756.25" y="872.5" font-size="21" textLength="31.5" lengthAdjust="spacingAndGlyphs" text-anchor="middle" >300</text>
<text x="829" y="873.1" font-size="21" textLength="31.5" lengthAdjust="spacingAndGlyphs" text-anchor="middle" >350</text>
<text x="892.1" y="873.1" font-size="21" textLength="31.5" lengthAdjust="spacingAndGlyphs" text-anchor="middle" >400</text>
<text x="775" y="887.0" font-size="24" textLength="32.5" lengthAdjust="spacingAndGlyphs" text-anchor="middle" >nm</text>
<text x="0" y="0" font-size="18.5" text-anchor="middle" textLength="35" lengthAdjust="spacingAndGlyphs" transform="translate(583.5,773) rotate(-90)">mAU</text>
<text x="0" y="0" font-size="18.5" text-anchor="middle" textLength="35" lengthAdjust="spacingAndGlyphs" transform="translate(943.5,773.5) rotate(-90)">mAU</text>
<text x="687" y="720.0" font-size="20" textLength="200.2" lengthAdjust="spacingAndGlyphs" >Standard tanshinone IIB</text>
<path d="M642.0,686.7 C642.2,690.1 643.0,700.0 643.5,706.9 C644.0,713.8 644.1,721.2 645.0,727.9 C645.9,734.6 647.3,740.8 648.7,747.3 C650.1,753.8 651.7,761.8 653.2,766.8 C654.7,771.8 656.3,774.3 657.7,777.3 C659.1,780.3 660.1,780.7 661.4,784.7 C662.6,788.7 664.0,797.0 665.2,801.2 C666.5,805.5 667.3,807.8 668.9,810.2 C670.5,812.6 672.6,814.8 674.9,815.4 C677.1,816.0 679.9,814.9 682.4,813.9 C684.9,812.9 687.7,810.8 689.9,809.4 C692.1,808.0 693.6,806.3 695.8,805.7 C698.0,805.1 701.0,806.5 703.3,805.7 C705.5,805.0 707.3,803.2 709.3,801.2 C711.3,799.2 713.3,795.5 715.3,793.7 C717.3,792.0 719.0,790.7 721.3,790.7 C723.5,790.7 726.8,792.2 728.8,793.7 C730.8,795.2 731.8,796.7 733.2,799.7 C734.6,802.7 735.8,807.7 737.0,811.7 C738.2,815.7 739.3,820.1 740.7,823.6 C742.1,827.1 743.7,830.1 745.2,832.6 C746.8,835.1 747.6,836.9 750.0,838.4 C752.4,839.9 754.5,840.7 759.6,841.7 C764.8,842.7 770.5,843.9 780.9,844.2 C791.3,844.6 810.9,843.8 821.8,843.8 C832.7,843.8 838.1,843.9 846.3,844.2 C854.5,844.5 862.4,845.4 870.9,845.8 C879.4,846.2 892.7,846.5 897.1,846.6" fill="none" stroke="#0a0a0a" stroke-width="6.2" stroke-linejoin="round" stroke-linecap="butt"/>
</svg>
</body></html>
